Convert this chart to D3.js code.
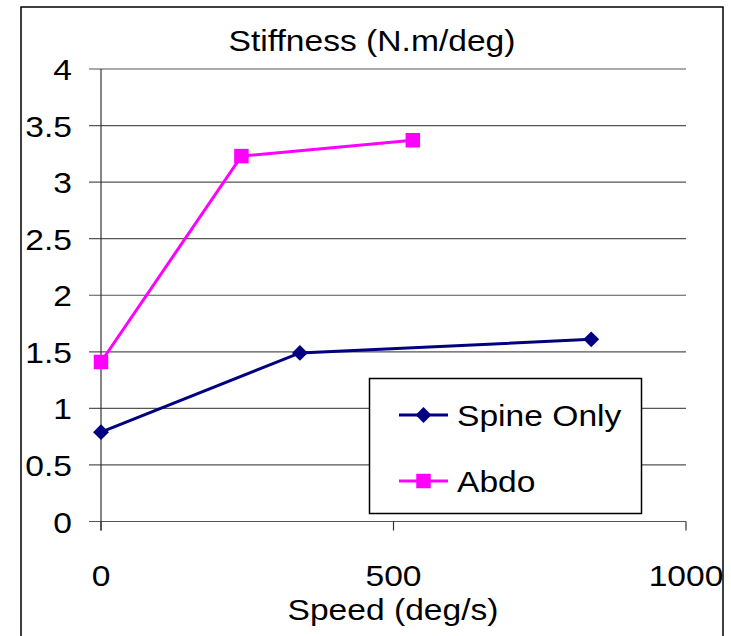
<!DOCTYPE html>
<html>
<head>
<meta charset="utf-8">
<title>Stiffness (N.m/deg)</title>
<style>
html, body {
  margin: 0;
  padding: 0;
  background: #fff;
}
svg text {
  font-family: "Liberation Sans", Arial, sans-serif;
  fill: #000;
}
.grid line {
  stroke: #555;
  stroke-width: 1.2px;
}
</style>
<script src="https://cdn.jsdelivr.net/npm/d3@7"></script>
</head>
<body>
<svg width="731" height="636"></svg>
<script>

// data
var seriesNames = ["Spine Only", "Abdo"];
var spineSpeed = [0, 340, 838];
var spineStiff = [0.79, 1.49, 1.61];
var abdoSpeed = [0, 240, 533];
var abdoStiff = [1.41, 3.23, 3.37];
var xTicks = [0, 500, 1000];
var yTicks = [0, 0.5, 1, 1.5, 2, 2.5, 3, 3.5, 4];

var svg = d3.select("svg");
var sx = 1.12; // text in the picture is stretched sideways
var fs = 30;

var x = d3.scaleLinear().domain([0, 1000]).range([101, 686]);
var y = d3.scaleLinear().domain([0, 4]).range([521.5, 69]);

// outer frame
svg.append("rect")
    .attr("x", 21).attr("y", 7)
    .attr("width", 702).attr("height", 640)
    .attr("fill", "none")
    .attr("stroke", "#000")
    .attr("stroke-width", 1.5);

function stretchedText(px, py, str, size, anchor) {
  var g = svg.append("g")
      .attr("transform", "translate(" + px + "," + py + ") scale(" + sx + ",1)");
  g.append("text")
      .attr("text-anchor", anchor || "middle")
      .attr("font-size", size)
      .text(str);
  return g;
}

// gridlines
var grid = svg.append("g").attr("class", "grid");
grid.selectAll("line")
    .data(yTicks)
    .enter().append("line")
      .attr("x1", 89).attr("x2", x(1000))
      .attr("y1", function(d) { return y(d); })
      .attr("y2", function(d) { return y(d); });

// y axis
svg.append("line")
    .attr("x1", x(0)).attr("x2", x(0))
    .attr("y1", y(4)).attr("y2", y(0) + 9)
    .attr("stroke", "#333").attr("stroke-width", 1.2);

// x ticks
svg.selectAll(".xtick")
    .data(xTicks)
    .enter().append("line")
      .attr("class", "xtick")
      .attr("x1", function(d) { return x(d); })
      .attr("x2", function(d) { return x(d); })
      .attr("y1", y(0)).attr("y2", y(0) + 9)
      .attr("stroke", "#333").attr("stroke-width", 1.2);

yTicks.forEach(function(t) {
  stretchedText(72, y(t) + 11, String(t), fs, "end");
});
xTicks.forEach(function(t) {
  stretchedText(x(t), 586, String(t), fs, "middle");
});

stretchedText(372, 51, "Stiffness (N.m/deg)", fs, "middle");
stretchedText(393, 620, "Speed (deg/s)", fs, "middle");

var line = d3.line()
    .x(function(d) { return x(d[0]); })
    .y(function(d) { return y(d[1]); });

var spine = d3.zip(spineSpeed, spineStiff);
var abdo = d3.zip(abdoSpeed, abdoStiff);

var diamond = d3.symbol().type(d3.symbolDiamond2).size(160);
var square = d3.symbol().type(d3.symbolSquare).size(210);

svg.append("path")
    .datum(spine)
    .attr("d", line)
    .attr("fill", "none")
    .attr("stroke", "#000080")
    .attr("stroke-width", 3);

svg.selectAll(".spine")
    .data(spine)
    .enter().append("path")
      .attr("class", "spine")
      .attr("d", diamond)
      .attr("transform", function(d) { return "translate(" + x(d[0]) + "," + y(d[1]) + ")"; })
      .attr("fill", "#000080");

svg.append("path")
    .datum(abdo)
    .attr("d", line)
    .attr("fill", "none")
    .attr("stroke", "#ff00ff")
    .attr("stroke-width", 3);

svg.selectAll(".abdo")
    .data(abdo)
    .enter().append("path")
      .attr("class", "abdo")
      .attr("d", square)
      .attr("transform", function(d) { return "translate(" + x(d[0]) + "," + y(d[1]) + ")"; })
      .attr("fill", "#ff00ff");

// legend
var legend = svg.append("g");
legend.append("rect")
    .attr("x", 369.5).attr("y", 378.5)
    .attr("width", 272).attr("height", 135)
    .attr("fill", "#fff")
    .attr("stroke", "#000")
    .attr("stroke-width", 1.5);

var legendItems = [
  {name: seriesNames[0], color: "#000080", sym: diamond, ly: 415},
  {name: seriesNames[1], color: "#ff00ff", sym: square, ly: 481}
];
legendItems.forEach(function(it) {
  legend.append("line")
      .attr("x1", 399).attr("x2", 448)
      .attr("y1", it.ly).attr("y2", it.ly)
      .attr("stroke", it.color).attr("stroke-width", 3);
  legend.append("path")
      .attr("d", it.sym)
      .attr("transform", "translate(423.5," + it.ly + ")")
      .attr("fill", it.color);
  stretchedText(457, it.ly + 11, it.name, fs, "start");
});

</script>
</body>
</html>
